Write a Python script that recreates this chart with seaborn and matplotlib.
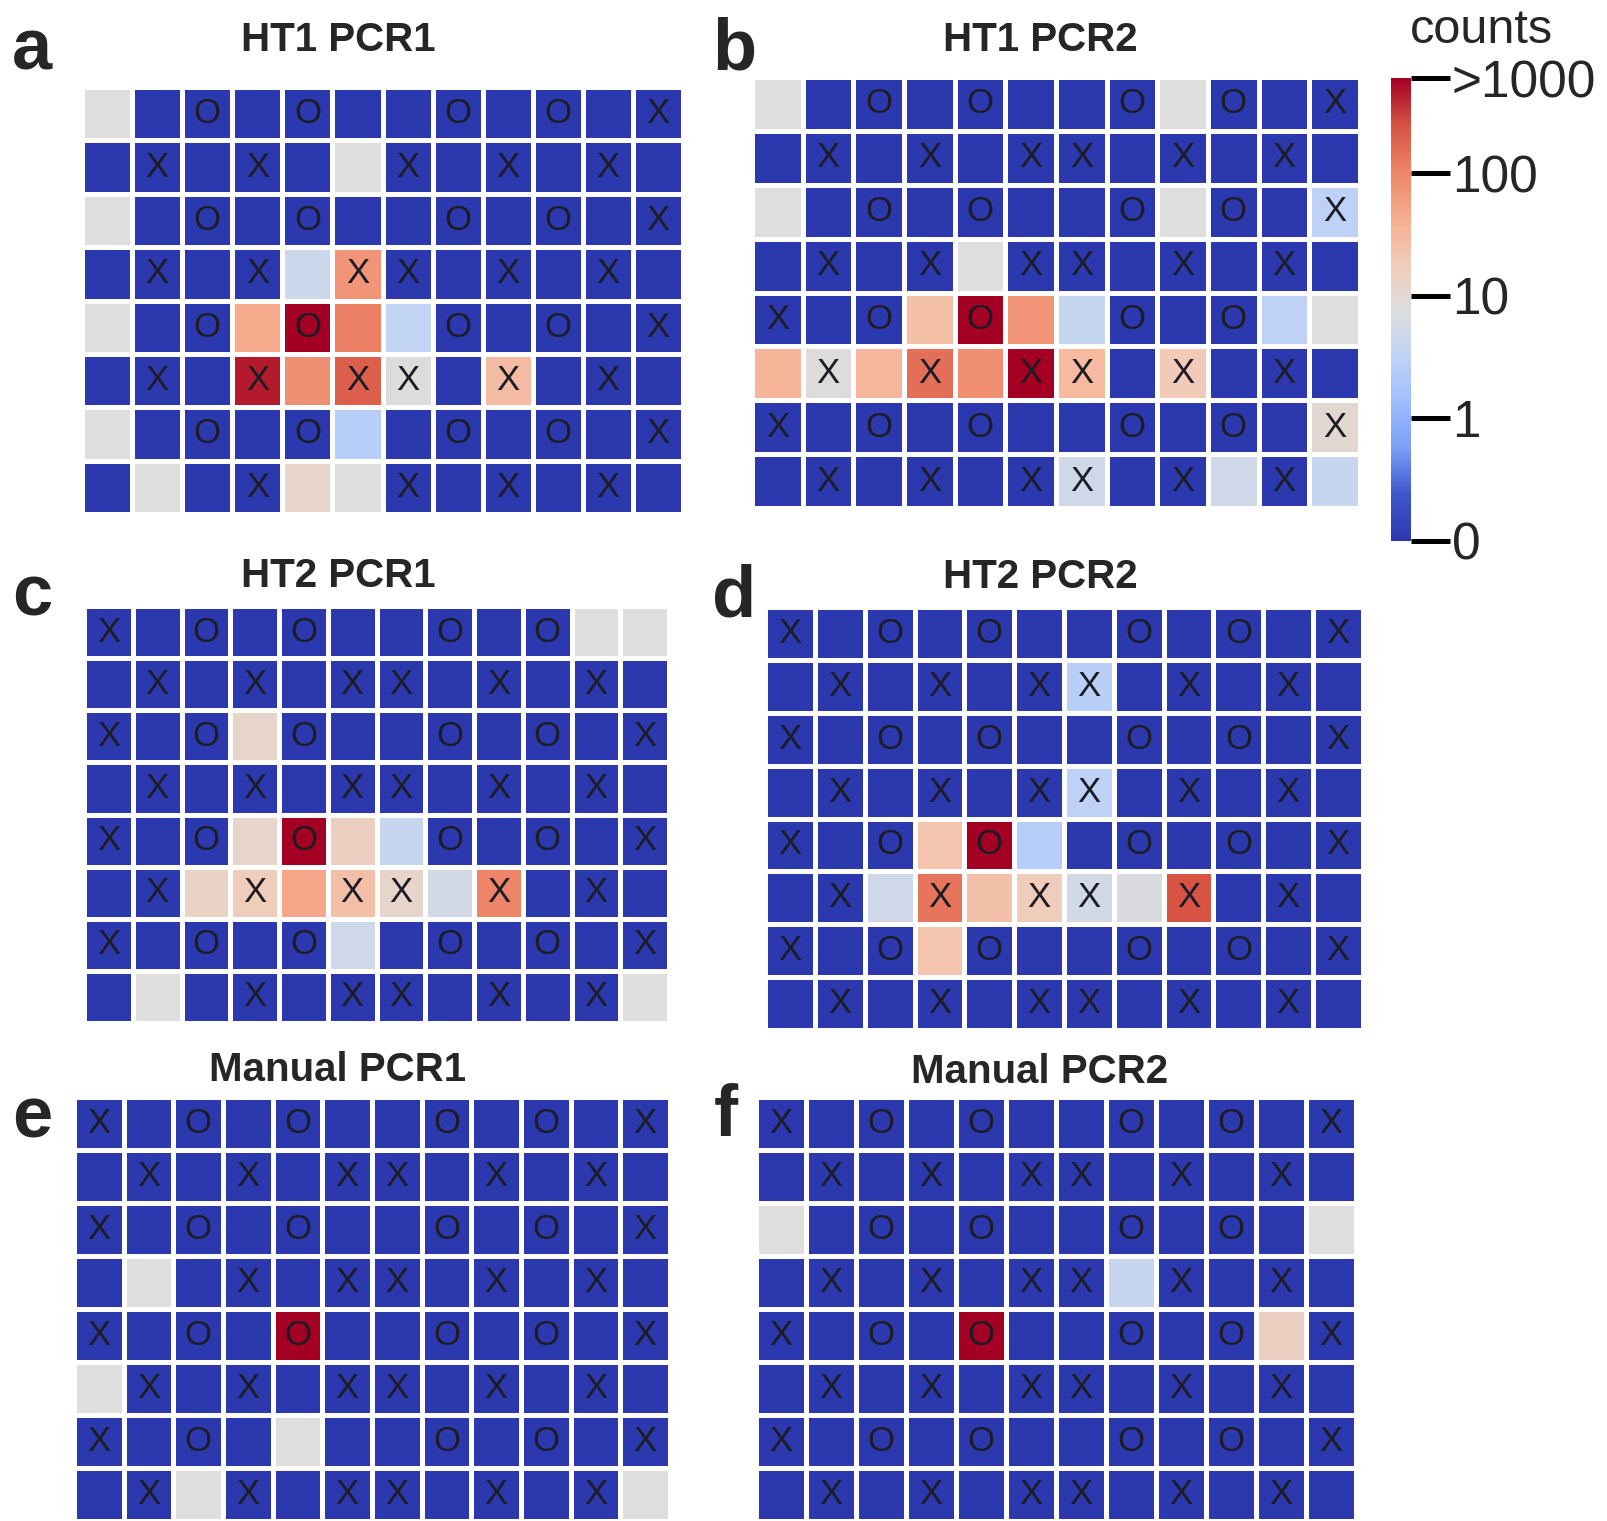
import numpy as np
import matplotlib
matplotlib.use("Agg")
import matplotlib.pyplot as plt
import seaborn as sns
from matplotlib.colors import LinearSegmentedColormap

nan = np.nan

# Plate layout: well markers (X / O), one string per plate row
plate_markers = [
    "X.O.O..O.O.X",
    ".X.X.XX.X.X.",
    "X.O.O..O.O.X",
    ".X.X.XX.X.X.",
    "X.O.O..O.O.X",
    ".X.X.XX.X.X.",
    "X.O.O..O.O.X",
    ".X.X.XX.X.X.",
]

# Read counts per well (NaN = no data for that well)
ht1_pcr1 = [
    [nan, 0, 0, 0, 0, 0, 0, 0, 0, 0, 0, 0],
    [0, 0, 0, 0, 0, nan, 0, 0, 0, 0, 0, 0],
    [nan, 0, 0, 0, 0, 0, 0, 0, 0, 0, 0, 0],
    [0, 0, 0, 0, 4.6, 75, 0, 0, 0, 0, 0, 0],
    [nan, 0, 0, 45, 1500, 110, 3.5, 0, 0, 0, 0, 0],
    [0, 0, 0, 450, 85, 200, 8, 0, 28, 0, 0, 0],
    [nan, 0, 0, 0, 0, 2.6, 0, 0, 0, 0, 0, 0],
    [0, nan, 0, 0, 12, nan, 0, 0, 0, 0, 0, 0],
]
ht1_pcr2 = [
    [nan, 0, 0, 0, 0, 0, 0, 0, nan, 0, 0, 0],
    [0, 0, 0, 0, 0, 0, 0, 0, 0, 0, 0, 0],
    [nan, 0, 0, 0, 0, 0, 0, 0, nan, 0, 0, 3],
    [0, 0, 0, 0, nan, 0, 0, 0, 0, 0, 0, 0],
    [0, 0, 0, 26, 1500, 75, 4, 0, 0, 0, 3, nan],
    [35, 8, 33, 150, 85, 1200, 30, 0, 18, 0, 0, 0],
    [0, 0, 0, 0, 0, 0, 0, 0, 0, 0, 0, 10],
    [0, 0, 0, 0, 0, 0, 5, 0, 0, 5, 0, 4],
]
ht2_pcr1 = [
    [0, 0, 0, 0, 0, 0, 0, 0, 0, 0, nan, nan],
    [0, 0, 0, 0, 0, 0, 0, 0, 0, 0, 0, 0],
    [0, 0, 0, 12, 0, 0, 0, 0, 0, 0, 0, 0],
    [0, 0, 0, 0, 0, 0, 0, 0, 0, 0, 0, 0],
    [0, 0, 0, 12, 1500, 14, 4, 0, 0, 0, 0, 0],
    [0, 0, 13, 17, 50, 26, 12, 5.5, 105, 0, 0, 0],
    [0, 0, 0, 0, 0, 5, 0, 0, 0, 0, 0, 0],
    [0, nan, 0, 0, 0, 0, 0, 0, 0, 0, 0, nan],
]
ht2_pcr2 = [
    [0, 0, 0, 0, 0, 0, 0, 0, 0, 0, 0, 0],
    [0, 0, 0, 0, 0, 0, 2.7, 0, 0, 0, 0, 0],
    [0, 0, 0, 0, 0, 0, 0, 0, 0, 0, 0, 0],
    [0, 0, 0, 0, 0, 0, 3, 0, 0, 0, 0, 0],
    [0, 0, 0, 22, 1500, 2.6, 0, 0, 0, 0, 0, 0],
    [0, 0, 5, 138, 24, 17, 5.5, 6.8, 240, 0, 0, 0],
    [0, 0, 0, 22, 0, 0, 0, 0, 0, 0, 0, 0],
    [0, 0, 0, 0, 0, 0, 0, 0, 0, 0, 0, 0],
]
manual_pcr1 = [
    [0, 0, 0, 0, 0, 0, 0, 0, 0, 0, 0, 0],
    [0, 0, 0, 0, 0, 0, 0, 0, 0, 0, 0, 0],
    [0, 0, 0, 0, 0, 0, 0, 0, 0, 0, 0, 0],
    [0, nan, 0, 0, 0, 0, 0, 0, 0, 0, 0, 0],
    [0, 0, 0, 0, 1500, 0, 0, 0, 0, 0, 0, 0],
    [nan, 0, 0, 0, 0, 0, 0, 0, 0, 0, 0, 0],
    [0, 0, 0, 0, nan, 0, 0, 0, 0, 0, 0, 0],
    [0, 0, nan, 0, 0, 0, 0, 0, 0, 0, 0, nan],
]
manual_pcr2 = [
    [0, 0, 0, 0, 0, 0, 0, 0, 0, 0, 0, 0],
    [0, 0, 0, 0, 0, 0, 0, 0, 0, 0, 0, 0],
    [nan, 0, 0, 0, 0, 0, 0, 0, 0, 0, 0, nan],
    [0, 0, 0, 0, 0, 0, 0, 4, 0, 0, 0, 0],
    [0, 0, 0, 0, 1500, 0, 0, 0, 0, 0, 14, 0],
    [0, 0, 0, 0, 0, 0, 0, 0, 0, 0, 0, 0],
    [0, 0, 0, 0, 0, 0, 0, 0, 0, 0, 0, 0],
    [0, 0, 0, 0, 0, 0, 0, 0, 0, 0, 0, 0],
]

panel_titles = ["HT1 PCR1", "HT1 PCR2", "HT2 PCR1", "HT2 PCR2", "Manual PCR1", "Manual PCR2"]
panel_letters = ["a", "b", "c", "d", "e", "f"]
panel_counts = [ht1_pcr1, ht1_pcr2, ht2_pcr1, ht2_pcr2, manual_pcr1, manual_pcr2]

cbar_tick_counts = [0, 1, 10, 100, 600]
cbar_tick_labels = ["0", "1", "10", "100", ">1000"]


def level(n):
    """Colour level: 0 for no counts, otherwise 1 + log10(count)."""
    n = np.asarray(n, dtype=float)
    with np.errstate(divide="ignore", invalid="ignore"):
        out = np.where(n > 0, 1 + np.log10(np.where(n > 0, n, 1)), 0.0)
    return np.where(np.isnan(n), np.nan, out)


LEVEL_TOP = float(level(cbar_tick_counts[-1]))

# coolwarm with deeper end colours
_anchor = np.linspace(0, 1, 11)
_cols = plt.get_cmap("coolwarm")(_anchor)
_cols[0] = (44 / 255, 57 / 255, 174 / 255, 1)
_cols[1] = (62 / 255, 86 / 255, 205 / 255, 1)
_cols[-1] = (163 / 255, 0 / 255, 36 / 255, 1)
cmap = LinearSegmentedColormap.from_list("counts", list(zip(_anchor, _cols)))

sns.set_theme(style="white")
plt.rcParams["font.family"] = ["Liberation Sans", "DejaVu Sans"]

W, H = 1607, 1521
fig = plt.figure(figsize=(W / 100, H / 100), dpi=100)
fig.patch.set_facecolor("white")


def box(l, t, r, b):
    return [l / W, 1 - b / H, (r - l) / W, (b - t) / H]


panel_boxes = [
    (82, 87, 683, 514),
    (752, 77, 1360, 508),
    (84, 606, 669, 1023),
    (765, 607, 1363, 1030),
    (74, 1097, 670, 1521),
    (756, 1097, 1356, 1521),
]
title_pos = [(338, 51), (1040, 51), (338, 587), (1040, 588), (338, 1081), (1040, 1083)]
letter_pos = [(12, 70), (712, 70), (12, 615), (712, 617), (12, 1138), (714, 1136)]

annot = np.array([[("" if ch == "." else ch) for ch in row] for row in plate_markers])

axes = []
for counts, bx, title, tpos, letter, lpos in zip(panel_counts, panel_boxes, panel_titles,
                                                 title_pos, panel_letters, letter_pos):
    ax = fig.add_axes(box(*bx))
    ax.set_facecolor("#dedede")
    sns.heatmap(level(counts), ax=ax, cmap=cmap, vmin=0, vmax=LEVEL_TOP,
                annot=annot, fmt="", cbar=False, linewidths=2.5, linecolor="white",
                xticklabels=False, yticklabels=False,
                annot_kws={"color": "#1c1c24", "fontsize": 25})
    for s in ax.spines.values():
        s.set_visible(False)
    fig.text(tpos[0] / W, 1 - tpos[1] / H, title, ha="center", va="baseline",
             fontsize=29, fontweight="bold")
    fig.text(lpos[0] / W, 1 - lpos[1] / H, letter, ha="left", va="baseline",
             fontsize=52, fontweight="bold")
    axes.append(ax)

# colour bar
cax = fig.add_axes(box(1391, 78, 1411, 541))
cb = fig.colorbar(axes[0].collections[0], cax=cax)
cb.outline.set_visible(False)
cb.set_ticks([float(level(c)) for c in cbar_tick_counts])
cb.set_ticklabels(cbar_tick_labels)
cax.tick_params(axis="y", length=28, width=3.6, color="black", labelsize=37, pad=1.5,
                direction="out", right=True, left=False)
fig.text(1481 / W, 1 - 43 / H, "counts", ha="center", va="baseline", fontsize=35)

fig.savefig("out.png", dpi=100, facecolor="white")
